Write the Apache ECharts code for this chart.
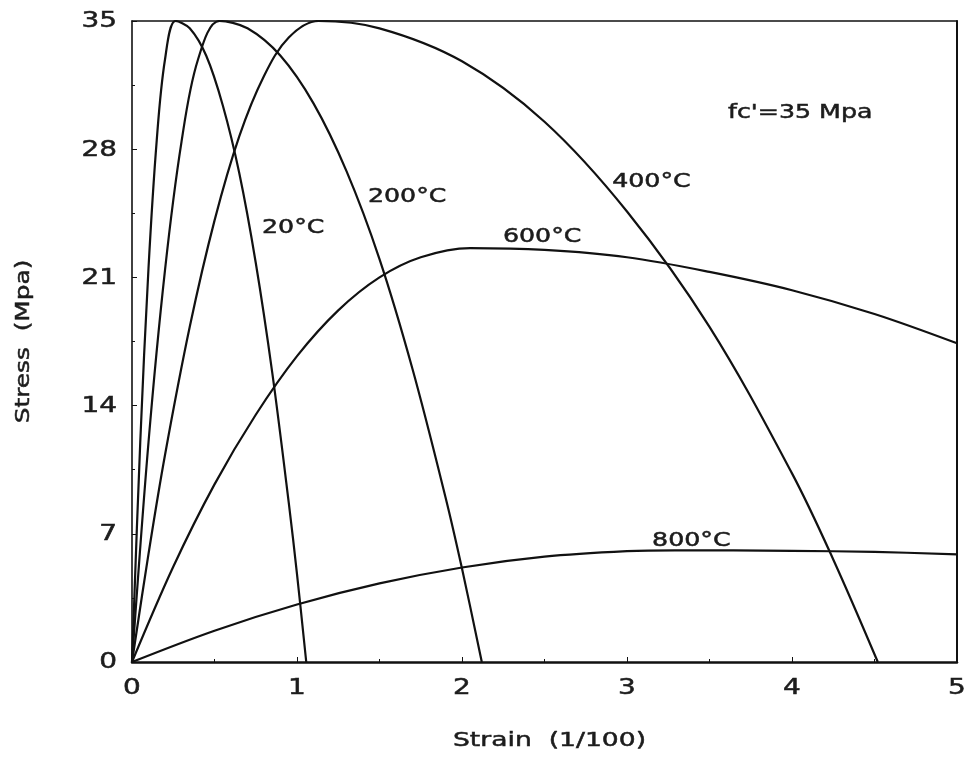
<!DOCTYPE html>
<html><head><meta charset="utf-8">
<script src="https://cdn.jsdelivr.net/npm/echarts@6/dist/echarts.min.js"></script>
<style>html,body{margin:0;padding:0;background:#fff}#c{width:966px;height:760px}</style>
</head><body><div id="c"></div>
<script>
// Data (strain in 1/100, stress in MPa)
const strain20  = [0, 0.05, 0.10, 0.15, 0.20, 0.264, 0.35, 0.45, 0.55, 0.65, 0.75, 0.85, 0.95, 1.00, 1.056];
const stress20  = [0, 12.0, 21.5, 28.5, 32.9, 35.0, 34.6, 33.1, 30.4, 26.7, 21.8, 15.8, 8.7, 4.8, 0];
const strain200 = [0, 0.10, 0.20, 0.30, 0.40, 0.53, 0.70, 0.90, 1.10, 1.30, 1.50, 1.70, 1.90, 2.00, 2.12];
const stress200 = [0, 12.0, 21.4, 28.4, 32.9, 35.0, 34.6, 33.1, 30.5, 26.8, 22.0, 16.0, 9.0, 5.1, 0];
const strain400 = [0, 0.10, 0.20, 0.35, 0.50, 0.65, 0.80, 0.95, 1.13, 1.50, 2.00, 2.50, 3.00, 3.50, 4.00, 4.25, 4.52];
const stress400 = [0, 5.9, 11.3, 18.3, 24.1, 28.7, 32.0, 34.1, 35.0, 34.6, 32.8, 29.5, 24.6, 18.3, 10.3, 5.6, 0];
const strain600 = [0, 0.25, 0.50, 0.75, 1.00, 1.25, 1.50, 1.75, 2.05, 2.50, 3.00, 3.50, 4.00, 4.50, 5.00];
const stress600 = [0, 5.2, 9.7, 13.5, 16.7, 19.2, 21.0, 22.1, 22.6, 22.5, 22.1, 21.3, 20.3, 19.0, 17.4];
const strain800 = [0, 0.50, 1.00, 1.50, 2.00, 2.50, 3.00, 3.29, 4.00, 4.50, 5.00];
const stress800 = [0, 1.71, 3.14, 4.29, 5.16, 5.75, 6.05, 6.10, 6.07, 6.01, 5.88];
const xTicks = [0, 1, 2, 3, 4, 5];
const yTicks = [0, 7, 14, 21, 28, 35];
const xName = 'Strain  (1/100)';
const yName = 'Stress  (Mpa)';
// annotation texts anchored in data coordinates [strain, stress]
const notes = [
  ["fc'=35 Mpa", 3.612, 30.0],
  ['20°C',  0.788, 23.7],
  ['200°C', 1.43, 25.4],
  ['400°C', 2.91, 26.2],
  ['600°C', 2.248, 23.2],
  ['800°C', 3.152, 6.6]
];

const FONT = '"DejaVu Sans"';
const TXT = '#1c1c1c';
const SX = 1.33;
function pairs(xs, ys){ return xs.map((x,i)=>[x, ys[i]]); }
function line(name, xs, ys){
  return {name, type:'line', data:pairs(xs,ys), smooth:0.35, showSymbol:false, symbol:'none',
    lineStyle:{color:'#111', width:2.2}, clip:true, silent:true};
}
const chart = echarts.init(document.getElementById('c'));
chart.setOption({
  animation:false,
  backgroundColor:'#fff',
  grid:{left:132, right:9, top:21, bottom:98},
  xAxis:[{
    type:'value', min:0, max:5, interval:1,
    axisLine:{onZero:false, lineStyle:{color:'#111', width:2.5}},
    axisTick:{inside:true, length:5, lineStyle:{color:'#111'}},
    minorTick:{show:true, splitNumber:2, length:3, lineStyle:{color:'#111'}},
    axisLabel:{show:false},
    splitLine:{show:false}
  },{
    type:'value', min:0, max:5, position:'top',
    axisLine:{show:true, onZero:false, lineStyle:{color:'#111', width:1.5}},
    axisTick:{show:false}, axisLabel:{show:false}, splitLine:{show:false}
  }],
  yAxis:[{
    type:'value', min:0, max:35, interval:7,
    axisLine:{onZero:false, lineStyle:{color:'#111', width:1.6}},
    axisTick:{inside:true, length:5, lineStyle:{color:'#111'}},
    minorTick:{show:true, splitNumber:2, length:3, lineStyle:{color:'#111'}},
    axisLabel:{show:false},
    splitLine:{show:false}
  },{
    type:'value', min:0, max:35, position:'right',
    axisLine:{show:true, onZero:false, lineStyle:{color:'#111', width:2}},
    axisTick:{show:false}, axisLabel:{show:false}, splitLine:{show:false}
  }],
  series:[
    line('20°C', strain20, stress20),
    line('200°C', strain200, stress200),
    line('400°C', strain400, stress400),
    line('600°C', strain600, stress600),
    line('800°C', strain800, stress800)
  ]
});

// Text drawn as graphics so that it can be widened like the scanned original
const px = v => chart.convertToPixel({xAxisIndex:0}, v);
const py = v => chart.convertToPixel({yAxisIndex:0}, v);
const g = [];
function txt(text, x, y, size, align, rot, sx){
  g.push({type:'text', x, y, rotation:rot||0, scaleX:sx||SX, scaleY:1, silent:true,
    style:{text, font:size+'px '+FONT, fill:TXT, stroke:TXT, lineWidth:0.5,
      textAlign:align||'left', textVerticalAlign:'middle'}});
}
const y0 = py(0), x0 = px(0);
xTicks.forEach(v => txt(String(v), px(v), y0 + 27, 21, 'center'));
yTicks.forEach(v => txt(String(v), x0 - 15, py(v) + 1, 21, 'right'));
txt(xName, (px(0)+px(5))/2 + 5, y0 + 79, 20, 'center');
txt(yName, 24, (py(0)+py(35))/2, 20, 'center', Math.PI/2, 1.24);
notes.forEach(n => txt(n[0], px(n[1]), py(n[2]), 19, 'left'));
chart.setOption({graphic:g});
</script></body></html>
